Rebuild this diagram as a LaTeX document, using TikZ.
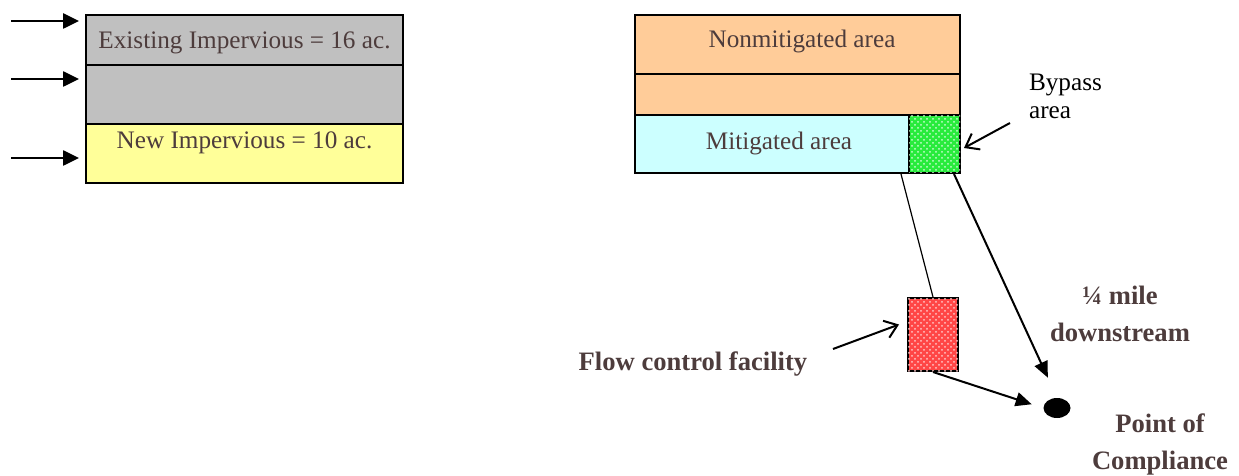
\documentclass[tikz,border=0pt]{standalone}
\usepackage{fontspec}
\setmainfont{Liberation Serif}
\usetikzlibrary{calc,arrows.meta,shapes.geometric,patterns}

\definecolor{inkbrown}{RGB}{77,60,60}
\definecolor{imperviousgray}{RGB}{192,192,192}
\definecolor{newyellow}{RGB}{255,255,153}
\definecolor{nonmitorange}{RGB}{255,204,153}
\definecolor{mitcyan}{RGB}{204,255,255}
\definecolor{bypassgreen}{RGB}{40,235,60}
\definecolor{facilityred}{RGB}{255,70,70}

\tikzset{
    areabox/.style={draw, line width=1pt, inner sep=0pt, text=inkbrown,
        font=\fontsize{12.6}{14}\selectfont},
    areatext/.style={text=inkbrown, font=\fontsize{12.6}{14}\selectfont},
    boldtext/.style={text=inkbrown, align=center,
        font=\fontsize{13.3}{18.5}\selectfont\bfseries},
    inflow/.style={line width=1.3pt, -{Triangle[length=8pt,width=7.5pt]}},
    runoff/.style={line width=1pt, -{Triangle[length=8pt,width=7pt]}},
    pointer/.style={line width=1pt, -{Straight Barb[length=6pt,width=9pt]}}
}

\begin{document}
\begin{tikzpicture}[x=0.5pt, y=-0.5pt]

    % Fix the page to the size of the reference
    \useasboundingbox (0,0) rectangle (1239,476);

    % Left: the existing site, split into impervious areas
    \node[areabox, fill=imperviousgray, minimum width=158.5pt, minimum height=25pt]
        (exist) at (244.5,40) {};
    \node[areatext] (existlabel) at (244.5,43) {Existing Impervious = 16 ac.};
    \node[areabox, fill=imperviousgray, minimum width=158.5pt, minimum height=29.5pt]
        (midgray) at (244.5,94.5) {};
    \node[areabox, fill=newyellow, minimum width=158.5pt, minimum height=29.5pt]
        (newimp) at (244.5,153.5) {};
    \node[areatext] (newlabel) at (244.5,143) {New Impervious = 10 ac.};

    % Inflow arrows pointing at the left edge
    \coordinate (in1) at (11,21);
    \coordinate (in2) at (11,79);
    \coordinate (in3) at (11,158);
    \draw[inflow] (in1) -- (79,21);
    \draw[inflow] (in2) -- (79,79);
    \draw[inflow] (in3) -- (79,158);

    % Right: the developed site
    \node[areabox, fill=nonmitorange, minimum width=162.5pt, minimum height=29.5pt]
        (nonmit) at (797.5,44.5) {};
    \node[areatext] (nonmitlabel) at (802,41) {Nonmitigated area};
    \node[areabox, fill=nonmitorange, minimum width=162.5pt, minimum height=20.5pt]
        (nonmitlow) at (797.5,94.5) {};
    \node[areabox, fill=mitcyan, minimum width=137pt, minimum height=29pt]
        (mit) at (772,144) {};
    \node[areatext] (mitlabel) at (779,143) {Mitigated area};
    \node[areabox, fill=bypassgreen, minimum width=25.5pt, minimum height=29pt,
        postaction={pattern=crosshatch dots, pattern color=white!75!bypassgreen}]
        (bypass) at (934.5,144) {};
    \node[anchor=west, align=left, font=\fontsize{12.6}{14}\selectfont]
        (bypasslabel) at (1022,96) {Bypass\\area};

    % Flow control facility and point of compliance
    \node[areabox, fill=facilityred, minimum width=25pt, minimum height=36.5pt,
        postaction={pattern=crosshatch dots, pattern color=white!70!facilityred}]
        (facility) at (933,334.5) {};
    \node[ellipse, fill=black, inner sep=0pt, minimum width=13.5pt, minimum height=10pt]
        (poc) at (1057,408) {};

    % Labels in bold
    \node[boldtext] (facilitylabel) at (693,364) {Flow control facility};
    \node[boldtext] (milelabel) at (1120,314) {\textonequarter{} mile\\downstream};
    \node[boldtext] (poclabel) at (1160,444) {Point of\\Compliance};

    % Connectors
    \coordinate (bypasstail) at (1010,123);
    \coordinate (facilitytail) at (833,349);
    \draw[pointer] (bypasstail) -- ($(bypass.east)+(3,4)$);
    \draw[pointer] (facilitytail) -- ($(facility.west)+(-8,-10)$);
    \draw[line width=0.6pt] ($(mit.south east)+(-9,0)$) -- (facility.north);
    \draw[runoff, shorten >=11pt] ($(bypass.south east)+(-7,0)$) -- (poc.north);
    \draw[runoff, shorten >=6pt] (facility.south) -- (poc.west);

\end{tikzpicture}
\end{document}
